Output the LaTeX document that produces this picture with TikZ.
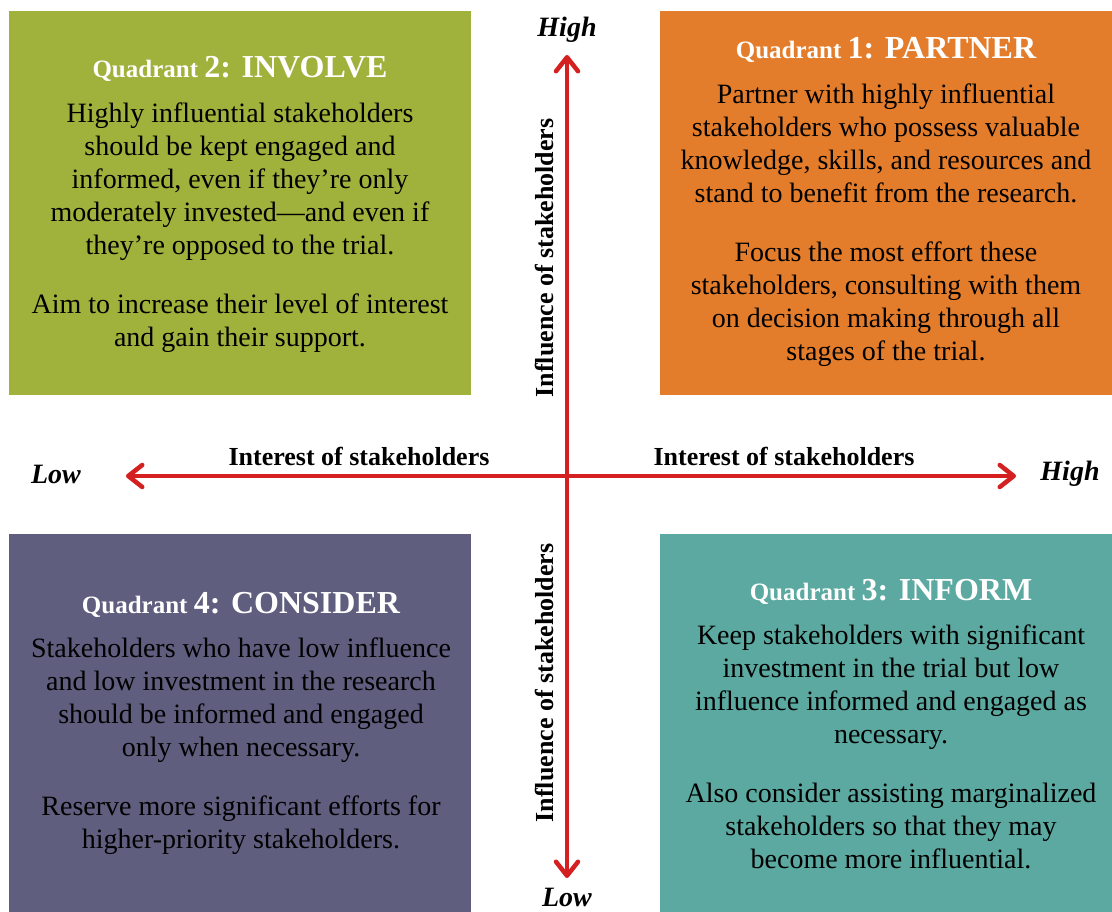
\documentclass[tikz,border=0pt]{standalone}
\usepackage{fontspec}
\setmainfont{Liberation Serif}
\usetikzlibrary{positioning,arrows.meta}

\definecolor{involvegreen}{HTML}{A0B13C}
\definecolor{partnerorange}{HTML}{E47D2B}
\definecolor{considerpurple}{HTML}{5F5E7F}
\definecolor{informteal}{HTML}{5BA9A0}
\definecolor{axisred}{HTML}{D42020}

\newcommand{\quadtitle}[2]{{\fontsize{25}{30}\selectfont Quadrant }{\fontsize{32}{36}\selectfont #1: #2}}

\begin{document}
\begin{tikzpicture}[x=1pt, y=-1pt,
						quad/.style={rectangle, inner sep=0pt, anchor=north west},
						title/.style={text=white, font=\bfseries, inner sep=0pt, anchor=base},
						body/.style={align=center, font=\fontsize{28}{33}\selectfont, inner sep=0pt},
						axislabel/.style={font=\fontsize{26}{30}\selectfont\bfseries, inner sep=0pt},
						endlabel/.style={font=\fontsize{28}{32}\selectfont\bfseries\itshape, inner sep=0pt},
						axis/.style={draw=axisred, line width=4.5pt, {Straight Barb[round, length=14pt, width=22pt]}-{Straight Barb[round, length=14pt, width=22pt]}}
					]
					\useasboundingbox (0,0) rectangle (1112,912);
					% quadrants
					\node[quad, fill=involvegreen, minimum width=462pt, minimum height=384pt] (q2) at (9,11) {};
					\node[quad, fill=partnerorange, minimum width=452pt, minimum height=384pt] (q1) at (660,11) {};
					\node[quad, fill=considerpurple, minimum width=462pt, minimum height=378pt] (q4) at (9,534) {};
					\node[quad, fill=informteal, minimum width=452pt, minimum height=378pt] (q3) at (660,534) {};
					% titles and texts
					\node[title] (t2) at (240,78) {\quadtitle{2}{INVOLVE}};
					\node[body] (b2) [below=20pt of t2] {Highly influential stakeholders\\ should be kept engaged and\\ informed, even if they’re only\\ moderately invested—and even if\\ they’re opposed to the trial.\\[26pt] Aim to increase their level of interest\\ and gain their support.};
					\node[title] (t1) at (886,59) {\quadtitle{1}{PARTNER}};
					\node[body] (b1) [below=20pt of t1] {Partner with highly influential\\ stakeholders who possess valuable\\ knowledge, skills, and resources and\\ stand to benefit from the research.\\[26pt] Focus the most effort these\\ stakeholders, consulting with them\\ on decision making through all\\ stages of the trial.};
					\node[title] (t4) at (241,613) {\quadtitle{4}{CONSIDER}};
					\node[body] (b4) [below=20pt of t4] {Stakeholders who have low influence\\ and low investment in the research\\ should be informed and engaged\\ only when necessary.\\[26pt] Reserve more significant efforts for\\ higher-priority stakeholders.};
					\node[title] (t3) at (891,600) {\quadtitle{3}{INFORM}};
					\node[body] (b3) [below=20pt of t3] {Keep stakeholders with significant\\ investment in the trial but low\\ influence informed and engaged as\\ necessary.\\[26pt] Also consider assisting marginalized\\ stakeholders so that they may\\ become more influential.};
					% axes
					\coordinate (ytop) at (567,55);
					\coordinate (ybot) at (567,878);
					\coordinate (xleft) at (126,476);
					\coordinate (xright) at (1016,476);
					\draw[axis] (xleft) -- (xright);
					\draw[axis] (ybot) -- (ytop);
					\node[endlabel] (lowx) at (56,474) {Low};
					\node[endlabel] (highx) at (1070,474) {High};
					\node[endlabel] (highy) at (567,30) {High};
					\node[endlabel] (lowy) at (567,897) {Low};
					\node[axislabel, anchor=base] (int1) at (359,465) {Interest of stakeholders};
					\node[axislabel, anchor=base] (int2) at (784,465) {Interest of stakeholders};
					\node[axislabel, rotate=90] (infl1) at (545,258) {Influence of stakeholders};
					\node[axislabel, rotate=90] (infl2) at (545,683) {Influence of stakeholders};
					\end{tikzpicture}
\end{document}
